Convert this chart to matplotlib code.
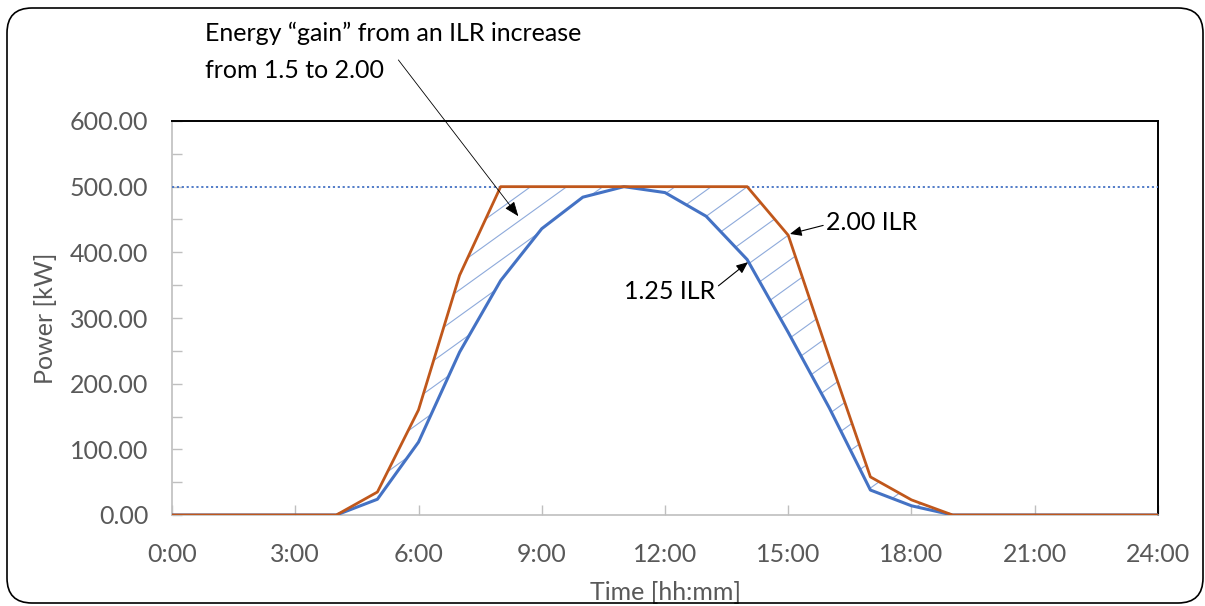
import matplotlib
matplotlib.use("Agg")
import matplotlib.pyplot as plt
from matplotlib.patches import FancyBboxPatch
from matplotlib.ticker import MultipleLocator
import numpy as np

plt.rcParams['font.family'] = ['Lato', 'DejaVu Sans']

# ---- data ----
hours = list(range(0, 25))
ilr_125 = [0, 0, 0, 0, 0, 24, 111, 248, 357, 436, 484, 500, 491, 455, 389, 278,
           163, 38, 14, 0, 0, 0, 0, 0, 0]
ilr_200 = [0, 0, 0, 0, 0, 35, 160, 365, 500, 500, 500, 500, 500, 500, 500, 426,
           240, 58, 23, 0, 0, 0, 0, 0, 0]
clip_limit = 500
x_ticks = [0, 3, 6, 9, 12, 15, 18, 21, 24]
x_tick_labels = ["0:00", "3:00", "6:00", "9:00", "12:00", "15:00", "18:00", "21:00", "24:00"]
y_ticks = [0, 100, 200, 300, 400, 500, 600]

BLUE = '#4472C4'
BROWN = '#C0571B'
HATCH = '#8EAADB'
GRAY_TXT = '#595959'
AXIS_GRAY = '#BFBFBF'
FS = 18

W_PX, H_PX = 1205, 606
fig = plt.figure(figsize=(W_PX / 100, H_PX / 100), dpi=100)
ax_l, ax_r, ax_t, ax_b = 172, 1158, 121, 515
ax = fig.add_axes([ax_l / W_PX, 1 - ax_b / H_PX, (ax_r - ax_l) / W_PX, (ax_b - ax_t) / H_PX])

ax.set_xlim(0, 24)
ax.set_ylim(0, 600)

# hatched region between curves
poly = ax.fill_between(hours, ilr_125, ilr_200, facecolor='none', edgecolor='none')
clip_path = poly.get_paths()[0]
axW, axH = ax_r - ax_l, ax_b - ax_t
m = 0.72
spacing = 26
for c in np.arange(-m * axW, axH + spacing, spacing):
    ln, = ax.plot([0, 1], [c / axH, (m * axW + c) / axH], transform=ax.transAxes,
                  color=HATCH, lw=0.8, zorder=2)
    ln.set_clip_path(clip_path, ax.transData)

# limit line
ax.axhline(clip_limit, color=BLUE, lw=1.3, ls=(0, (1.2, 1.5)), zorder=3)

ax.plot(hours, ilr_125, color=BLUE, lw=2.2, zorder=4, solid_joinstyle='round')
ax.plot(hours, ilr_200, color=BROWN, lw=2.0, zorder=5, solid_joinstyle='round')

# axes styling
ax.set_xticks(x_ticks)
ax.set_xticklabels(x_tick_labels)
ax.set_yticks(y_ticks)
ax.set_yticklabels([f"{v:.2f}" for v in y_ticks])
ax.yaxis.set_minor_locator(MultipleLocator(50))
ax.tick_params(axis='both', which='both', direction='in', color=AXIS_GRAY,
               labelcolor=GRAY_TXT, labelsize=FS, length=7, width=1)
ax.tick_params(axis='y', which='both', pad=17)
ax.tick_params(axis='x', which='both', pad=20)
ax.tick_params(axis='x', which='minor', length=0)
for s in ['left', 'bottom']:
    ax.spines[s].set_color(AXIS_GRAY)
    ax.spines[s].set_linewidth(1.2)
for s in ['top', 'right']:
    ax.spines[s].set_color('black')
    ax.spines[s].set_linewidth(1.4)

ax.set_xlabel("Time [hh:mm]", color=GRAY_TXT, fontsize=FS, labelpad=11)
ax.set_ylabel("Power [kW]", color=GRAY_TXT, fontsize=FS, labelpad=9)

# annotations
fig.text(205 / W_PX, 1 - 41 / H_PX, "Energy \u201cgain\u201d from an ILR increase",
         fontsize=FS, color='black', va='baseline', ha='left')
fig.text(205 / W_PX, 1 - 78 / H_PX, "from 1.5 to 2.00",
         fontsize=FS, color='black', va='baseline', ha='left')
ax.annotate("", xy=(8.43, 455), xytext=(5.51, 693), xycoords='data', textcoords='data',
            annotation_clip=False,
            arrowprops=dict(arrowstyle='-|>,head_length=0.9,head_width=0.35',
                            color='black', lw=0.6, shrinkA=0, shrinkB=0), zorder=6)

ax.text(15.92, 446, "2.00 ILR", fontsize=FS, color='black', va='center', ha='left', zorder=6)
ax.annotate("", xy=(15.04, 428), xytext=(15.85, 441), xycoords='data', textcoords='data',
            arrowprops=dict(arrowstyle='-|>,head_length=0.7,head_width=0.3',
                            color='black', lw=0.8, shrinkA=0, shrinkB=0), zorder=6)

ax.text(13.22, 341, "1.25 ILR", fontsize=FS, color='black', va='center', ha='right', zorder=6)
ax.annotate("", xy=(14.02, 385), xytext=(13.30, 349), xycoords='data', textcoords='data',
            arrowprops=dict(arrowstyle='-|>,head_length=0.7,head_width=0.3',
                            color='black', lw=0.8, shrinkA=0, shrinkB=0), zorder=6)

# chart border
border = FancyBboxPatch((0.07, 0.03), 11.96, 5.95, boxstyle='round,pad=0,rounding_size=0.25',
                        transform=fig.dpi_scale_trans, facecolor='none', edgecolor='black',
                        lw=1.2)
fig.patches.append(border)

fig.savefig("out.png", dpi=100)
